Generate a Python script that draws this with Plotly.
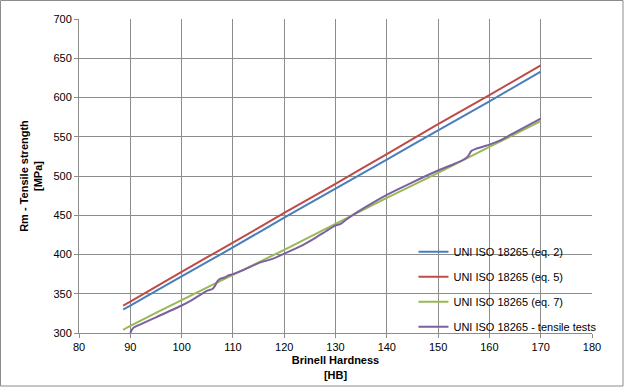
import plotly.graph_objects as go

# Data
hb_eq2 = [88.6, 90, 100, 110, 120, 130, 140, 150, 160, 170]
rm_eq2 = [330, 335, 372, 409, 447, 484, 521, 558, 595, 633]

hb_eq5 = [88.6, 90, 100, 110, 120, 130, 140, 150, 160, 170]
rm_eq5 = [335, 340, 378, 415, 453, 490, 528, 566, 603, 641]

hb_eq7 = [88.6, 90, 100, 110, 120, 130, 140, 150, 160, 170]
rm_eq7 = [304, 309, 342, 374, 406, 439, 472, 504, 537, 570]

hb_tests = [90.0, 90.3, 90.7, 92, 95, 100, 102, 104, 105, 106, 106.5, 107, 107.5,
            108.5, 109, 110, 112, 115, 118, 120, 123, 126, 128, 130, 131, 132, 134,
            136, 140, 145, 150, 153, 155, 155.8, 156.5, 157.5, 159, 160, 162, 164,
            166, 168, 170]
rm_tests = [300, 304, 307, 311, 320, 335, 342, 350, 354, 356, 360, 366, 369,
            371, 373, 375, 380, 389, 395, 401, 410, 421, 429, 437, 439, 444, 453,
            461, 476, 492, 507, 515, 521, 525, 532, 535, 538, 540, 545, 552,
            559, 566, 573]

names = ["UNI ISO 18265 (eq. 2)", "UNI ISO 18265 (eq. 5)",
         "UNI ISO 18265 (eq. 7)", "UNI ISO 18265 - tensile tests"]
colors = ["#4A7EBB", "#BE4B48", "#98B954", "#7D60A0"]

fig = go.Figure()
series = [(hb_eq2, rm_eq2), (hb_eq5, rm_eq5), (hb_eq7, rm_eq7), (hb_tests, rm_tests)]
for i, ((xs, ys), n, c) in enumerate(zip(series, names, colors)):
    fig.add_trace(go.Scatter(
        x=xs, y=ys, name=n, mode="lines", legendgroup=f"g{i}",
        line=dict(color=c, width=2, shape="spline", smoothing=0.6),
    ))

font_family = "Liberation Sans, Arial, sans-serif"
fig.update_layout(
    width=624, height=387,
    margin=dict(l=79, r=32, t=19, b=54),
    paper_bgcolor="white", plot_bgcolor="white",
    font=dict(family=font_family, size=11, color="#000000"),
    showlegend=True,
    legend=dict(
        x=0.652, y=0.305, xanchor="left", yanchor="top",
        bgcolor="rgba(0,0,0,0)", borderwidth=0,
        font=dict(size=11, family=font_family, color="#000000"),
        tracegroupgap=6, itemwidth=30,
    ),
    xaxis=dict(
        range=[80, 180], dtick=10, tick0=80, automargin=False,
        showgrid=True, gridcolor="#8C8C8C", gridwidth=1,
        showline=True, linecolor="#8C8C8C", linewidth=1,
        ticks="outside", ticklen=4, tickcolor="#8C8C8C",
        zeroline=False,
        title=dict(text="<b>Brinell Hardness</b><br><b>[HB]</b>",
                   font=dict(size=11, family=font_family), standoff=4),
    ),
    yaxis=dict(
        range=[300, 700], dtick=50, tick0=300, automargin=False,
        showgrid=True, gridcolor="#8C8C8C", gridwidth=1,
        showline=True, linecolor="#8C8C8C", linewidth=1,
        ticks="outside", ticklen=4, tickcolor="#8C8C8C",
        zeroline=False,
        title=dict(text="<b>Rm - Tensile strength</b><br><b>[MPa]</b>",
                   font=dict(size=11, family=font_family), standoff=8),
    ),
)
fig.add_shape(type="rect", xref="paper", yref="paper",
              x0=-78.5/513, x1=1+31/513, y0=-53/314, y1=1+18.5/314,
              line=dict(color="#8C8C8C", width=1), layer="below")

fig.write_html("out.html", config={"displayModeBar": False},
               post_script="document.body.style.margin='0';")
